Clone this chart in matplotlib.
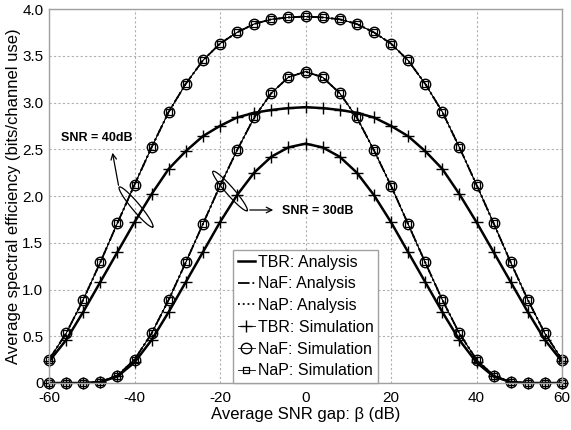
import matplotlib
matplotlib.use("Agg")
import matplotlib.pyplot as plt
import numpy as np

plt.rcParams['font.family'] = ['Liberation Sans', 'DejaVu Sans']
plt.rcParams['axes.unicode_minus'] = False

# SNR gap beta (dB), one point every 4 dB
beta = list(range(-60, 61, 4))

# SNR = 40 dB
tbr_40 = [0.23, 0.46, 0.76, 1.08, 1.40, 1.72, 2.02, 2.29, 2.48, 2.64, 2.75, 2.84, 2.89, 2.92, 2.94, 2.95,
          2.94, 2.92, 2.89, 2.84, 2.75, 2.64, 2.48, 2.29, 2.02, 1.72, 1.40, 1.08, 0.76, 0.46, 0.23]
naf_40 = [0.25, 0.53, 0.89, 1.29, 1.71, 2.12, 2.52, 2.90, 3.20, 3.45, 3.63, 3.75, 3.84, 3.89, 3.91, 3.92,
          3.91, 3.89, 3.84, 3.75, 3.63, 3.45, 3.20, 2.90, 2.52, 2.12, 1.71, 1.29, 0.89, 0.53, 0.25]
nap_40 = [0.25, 0.53, 0.89, 1.29, 1.71, 2.12, 2.52, 2.90, 3.20, 3.45, 3.63, 3.75, 3.84, 3.89, 3.91, 3.92,
          3.91, 3.89, 3.84, 3.75, 3.63, 3.45, 3.20, 2.90, 2.52, 2.12, 1.71, 1.29, 0.89, 0.53, 0.25]

# SNR = 30 dB
tbr_30 = [0.00, 0.00, 0.00, 0.01, 0.07, 0.22, 0.46, 0.76, 1.08, 1.40, 1.72, 2.01, 2.25, 2.42, 2.52, 2.56,
          2.52, 2.42, 2.25, 2.01, 1.72, 1.40, 1.08, 0.76, 0.46, 0.22, 0.07, 0.01, 0.00, 0.00, 0.00]
naf_30 = [0.00, 0.00, 0.00, 0.01, 0.08, 0.25, 0.53, 0.89, 1.29, 1.70, 2.11, 2.49, 2.84, 3.10, 3.27, 3.33,
          3.27, 3.10, 2.84, 2.49, 2.11, 1.70, 1.29, 0.89, 0.53, 0.25, 0.08, 0.01, 0.00, 0.00, 0.00]
nap_30 = [0.00, 0.00, 0.00, 0.01, 0.08, 0.25, 0.53, 0.89, 1.29, 1.70, 2.11, 2.49, 2.84, 3.10, 3.27, 3.33,
          3.27, 3.10, 2.84, 2.49, 2.11, 1.70, 1.29, 0.89, 0.53, 0.25, 0.08, 0.01, 0.00, 0.00, 0.00]

x_ticks = [-60, -40, -20, 0, 20, 40, 60]
y_ticks = [0, 0.5, 1.0, 1.5, 2.0, 2.5, 3.0, 3.5, 4.0]
y_tick_labels = ['0', '0.5', '1.0', '1.5', '2.0', '2.5', '3.0', '3.5', '4.0']

W, H = 571, 430
fig = plt.figure(figsize=(W / 100, H / 100), dpi=100)
L, R, T, B = 49, 562, 9, 383
ax = fig.add_axes([L / W, 1 - B / H, (R - L) / W, (B - T) / H])


def px(x, y):
    """image pixel -> data coords"""
    return (-60 + (x - L) / (R - L) * 120, (B - y) / (B - T) * 4.0)


k = 'black'
handles = []
for i, (t, f, p) in enumerate([(tbr_40, naf_40, nap_40), (tbr_30, naf_30, nap_30)]):
    h1, = ax.plot(beta, t, '-', color=k, lw=1.8, label='TBR: Analysis')
    h2, = ax.plot(beta, f, '-.', color=k, lw=1.3, label='NaF: Analysis')
    h3, = ax.plot(beta, p, ':', color=k, lw=1.3, label='NaP: Analysis')
    h4, = ax.plot(beta, t, '-', marker='+', ms=8, mew=1.0, color=k, lw=0.6,
                  label='TBR: Simulation', clip_on=False)
    h5, = ax.plot(beta, f, '-', marker='o', ms=7.5, mew=1.0, mfc='none', color=k, lw=0.6,
                  label='NaF: Simulation', clip_on=False)
    h6, = ax.plot(beta, p, '-', marker='s', ms=5, mew=0.9, mfc='none', color=k, lw=0.6,
                  label='NaP: Simulation', clip_on=False)
    if i == 0:
        handles = [h1, h2, h3, h4, h5, h6]

ax.set_xlim(-60, 60)
ax.set_ylim(0, 4.0)
ax.set_xticks(x_ticks)
ax.set_yticks(y_ticks)
ax.set_yticklabels(y_tick_labels)
ax.tick_params(labelsize=11, direction='in', length=0)
ax.tick_params(axis='x', pad=6)
ax.tick_params(axis='y', pad=4)
ax.grid(True, color='#b0b0b0', linestyle=(0, (2, 2)), lw=0.8)
for s in ax.spines.values():
    s.set_color('#a0a0a0')
    s.set_linewidth(1.0)

ax.set_xlabel('Average SNR gap: β (dB)', fontsize=12, labelpad=1)
ax.set_ylabel('Average spectral efficiency (bits/channel use)', fontsize=12, labelpad=1)

leg = ax.legend(handles=handles, loc='lower center', bbox_to_anchor=(0.5, 0.0),
                borderaxespad=0, fontsize=11.5, handlelength=1.1, handletextpad=0.15,
                labelspacing=0.42, fancybox=False, framealpha=1, edgecolor='#a0a0a0',
                borderpad=0.3)
leg.get_frame().set_linewidth(1.0)


def ellipse(cx, cy, length, width, ang):
    tt = np.linspace(0, 2 * np.pi, 100)
    a = np.deg2rad(ang)
    ex = length / 2 * np.cos(tt)
    ey = width / 2 * np.sin(tt)
    xs = cx + ex * np.cos(a) - ey * np.sin(a)
    ys = cy - (ex * np.sin(a) + ey * np.cos(a))
    d = [px(u, v) for u, v in zip(xs, ys)]
    ax.plot([q[0] for q in d], [q[1] for q in d], color=k, lw=0.9, clip_on=False)


# SNR = 40 dB marker
ellipse(136, 207, 52, 8, -50)
ax.annotate('', xy=px(112, 150), xytext=px(119, 188),
            arrowprops=dict(arrowstyle='->', color=k, lw=0.9))
ax.text(*px(61, 138), 'SNR = 40dB', fontsize=9, fontweight='bold', ha='left', va='center')

# SNR = 30 dB marker
ellipse(230, 191, 52, 8, -49)
ax.annotate('', xy=px(276, 210), xytext=px(247, 210),
            arrowprops=dict(arrowstyle='->', color=k, lw=0.9))
ax.text(*px(282, 211), 'SNR = 30dB', fontsize=9, fontweight='bold', ha='left', va='center')

fig.savefig('out.png', dpi=100)
